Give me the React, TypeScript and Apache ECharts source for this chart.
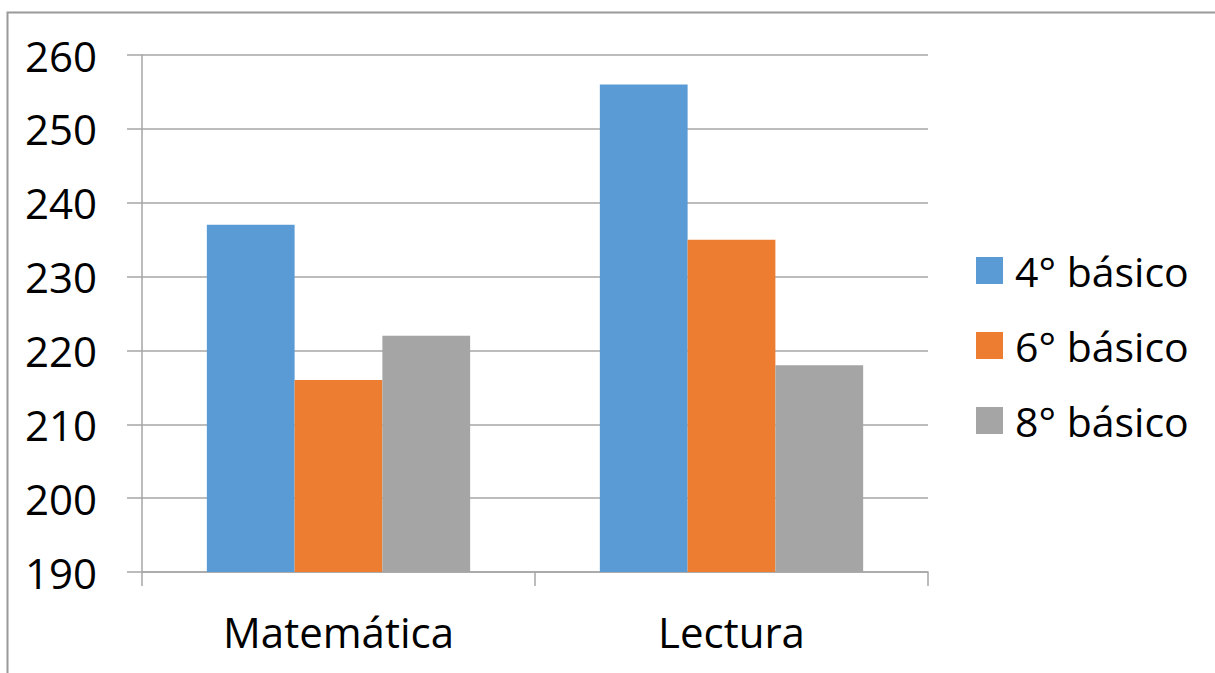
import React, { useEffect, useRef } from "react";
import * as echarts from "echarts";

const categories = ["Matemática", "Lectura"];
const seriesNames = ["4° básico", "6° básico", "8° básico"];
const values4 = [237, 256];
const values6 = [216, 235];
const values8 = [222, 218];
const colors = ["#5B9BD5", "#ED7D31", "#A5A5A5"];

export default function App() {
  const ref = useRef<HTMLDivElement>(null);
  useEffect(() => {
    if (!ref.current) return;
    const chart = echarts.init(ref.current, undefined, { renderer: "svg" });
    const font = "'Open Sans', 'Noto Sans', sans-serif";
    const seriesData = [values4, values6, values8];
    chart.setOption({
      animation: false,
      backgroundColor: "#ffffff",
      textStyle: { fontFamily: font },
      graphic: [
        {
          type: "rect",
          shape: { x: 7.5, y: 12.5, width: 1400, height: 900 },
          style: { fill: "none", stroke: "#9a9a9a", lineWidth: 2 },
          silent: true,
        },
      ],
      grid: { left: 142, right: 287, top: 55, bottom: 101, containLabel: false },
      legend: {
        orient: "vertical",
        left: 976,
        top: 250,
        padding: 0,
        itemWidth: 27,
        itemHeight: 27,
        itemGap: 34,
        icon: "rect",
        textStyle: { fontSize: 41, lineHeight: 40, color: "#000", fontFamily: font, padding: [0, 0, 0, 7] },
        data: seriesNames,
      },
      xAxis: {
        type: "category",
        data: categories,
        axisLine: { show: true, lineStyle: { color: "#A6A6A6", width: 1.5 } },
        axisTick: { show: true, length: 14, lineStyle: { color: "#A6A6A6", width: 1.5 } },
        axisLabel: { fontSize: 42, color: "#000", margin: 38, fontFamily: font },
      },
      yAxis: {
        type: "value",
        min: 190,
        max: 260,
        interval: 10,
        axisLine: { show: true, lineStyle: { color: "#A6A6A6", width: 1.5 } },
        axisTick: { show: true, length: 15, lineStyle: { color: "#A6A6A6", width: 1.5 } },
        axisLabel: { fontSize: 42, color: "#000", margin: 45, fontFamily: font },
        splitLine: { show: true, lineStyle: { color: "#A6A6A6", width: 1.5 } },
      },
      series: seriesNames.map((name, i) => ({
        name,
        type: "bar",
        data: seriesData[i],
        barGap: "0%",
        barCategoryGap: "33%",
        itemStyle: { color: colors[i] },
      })),
    });
    return () => chart.dispose();
  }, []);
  return (
    <div
      ref={ref}
      style={{ position: "fixed", left: 0, top: 0, width: 1215, height: 673 }}
    />
  );
}
